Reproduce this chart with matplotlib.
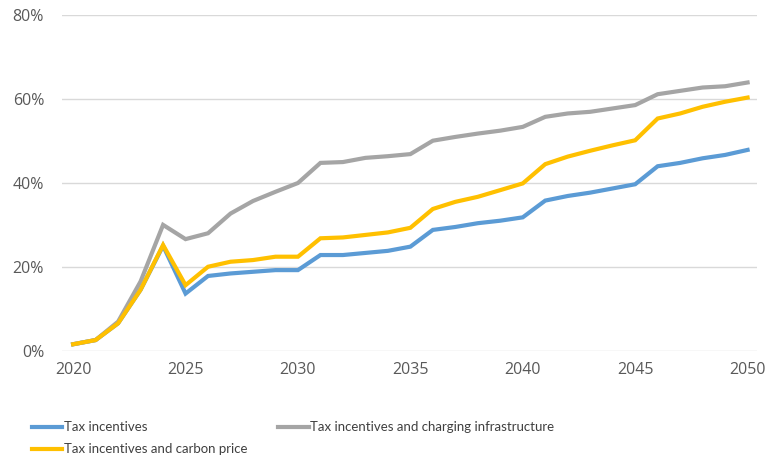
import matplotlib
matplotlib.use("Agg")
import matplotlib.pyplot as plt
from matplotlib.ticker import FuncFormatter
from matplotlib import font_manager

years = list(range(2020, 2051))
tax_incentives = [1.5, 2.5, 6.5, 14.5, 25.0, 13.6, 17.8, 18.4, 18.8, 19.2, 19.2,
                  22.8, 22.8, 23.3, 23.8, 24.8, 28.8, 29.5, 30.4, 31.0, 31.8,
                  35.8, 36.9, 37.7, 38.7, 39.7, 44.0, 44.8, 45.9, 46.7, 47.9]
tax_carbon = [1.5, 2.5, 6.5, 14.5, 25.2, 15.6, 20.0, 21.2, 21.6, 22.4, 22.4,
              26.8, 27.0, 27.6, 28.2, 29.3, 33.8, 35.5, 36.7, 38.3, 39.9,
              44.5, 46.3, 47.7, 49.0, 50.2, 55.4, 56.6, 58.2, 59.4, 60.4]
tax_charging = [1.5, 2.5, 6.9, 16.5, 30.0, 26.6, 28.0, 32.7, 35.7, 37.9, 40.0,
                44.8, 45.0, 46.0, 46.4, 46.9, 50.1, 51.0, 51.8, 52.5, 53.4,
                55.8, 56.6, 57.0, 57.8, 58.6, 61.2, 62.0, 62.8, 63.1, 64.0]
labels = ["Tax incentives", "Tax incentives and charging infrastructure",
          "Tax incentives and carbon price"]
yticks = [0, 20, 40, 60, 80]
xticks = [2020, 2025, 2030, 2035, 2040, 2045, 2050]

names = {f.name for f in font_manager.fontManager.ttflist}
tick_font = "Open Sans" if "Open Sans" in names else "DejaVu Sans"
leg_font = "Lato" if "Lato" in names else tick_font

fig = plt.figure(figsize=(7.67, 4.62), dpi=100)
ax = fig.add_axes([0.081, 0.2413, 0.906, 0.7252])

c_blue, c_gray, c_yellow = "#5B9BD5", "#A5A5A5", "#FFC000"
l1, = ax.plot(years, tax_incentives, color=c_blue, lw=3, solid_joinstyle="miter", zorder=3)
l2, = ax.plot(years, tax_charging, color=c_gray, lw=3, solid_joinstyle="miter", zorder=3)
l3, = ax.plot(years, tax_carbon, color=c_yellow, lw=3, solid_joinstyle="miter", zorder=4)

ax.set_ylim(0, 80)
ax.set_xlim(2019.51, 2050.42)
ax.set_yticks(yticks)
ax.set_xticks(xticks)
ax.yaxis.set_major_formatter(FuncFormatter(lambda v, p: f"{int(v)}%"))
ax.grid(axis="y", color="#D9D9D9", lw=1)
ax.set_axisbelow(True)
for s in ax.spines.values():
    s.set_visible(False)
ax.tick_params(length=0, labelsize=11.5, labelcolor="#595959")
ax.tick_params(axis="y", pad=13)
ax.tick_params(axis="x", pad=8)
for t in ax.get_xticklabels() + ax.get_yticklabels():
    t.set_fontfamily(tick_font)

leg = fig.legend([l1, l3, l2], [labels[0], labels[2], labels[1]], ncol=2,
                 loc="upper left", bbox_to_anchor=(0.0417, 0.088),
                 bbox_transform=fig.transFigure, frameon=False,
                 prop={"family": leg_font, "size": 9.5}, handlelength=2.3,
                 handletextpad=0.15, columnspacing=2.3, labelspacing=0.75,
                 borderpad=0, borderaxespad=0)
for t in leg.get_texts():
    t.set_color("#404040")

fig.savefig("out.png", dpi=100)
